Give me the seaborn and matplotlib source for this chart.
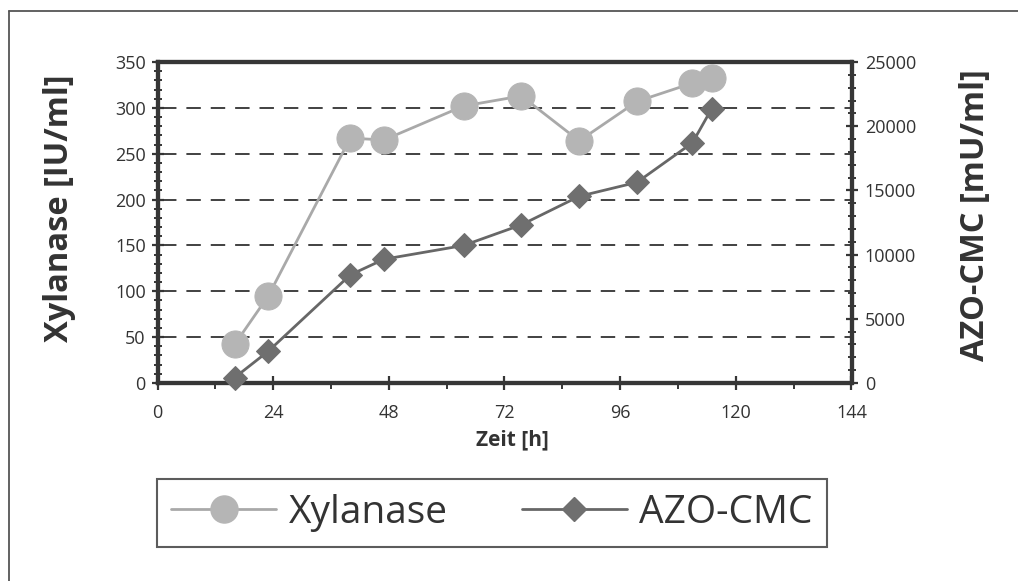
import numpy as np
import pandas as pd
import matplotlib
matplotlib.use("Agg")
import matplotlib.pyplot as plt
import seaborn as sns
from matplotlib.lines import Line2D
from matplotlib.ticker import MultipleLocator

# ---- data ----
zeit_xyl = [16, 23, 40, 47, 63.5, 75.5, 87.5, 99.5, 111, 115]
xylanase = [42, 95, 267, 265, 302, 313, 264, 307, 327, 333]
zeit_azo = [16, 23, 40, 47, 63.5, 75.5, 87.5, 99.5, 111, 115]
azo_cmc = [420, 2480, 8420, 9640, 10710, 12320, 14540, 15630, 18710, 21370]

x_ticks = [0, 24, 48, 72, 96, 120, 144]
left_ticks = [0, 50, 100, 150, 200, 250, 300, 350]
right_ticks = [0, 5000, 10000, 15000, 20000, 25000]

sns.set_theme(style="white")
plt.rcParams['font.family'] = ['Open Sans', 'DejaVu Sans']

W, H = 1018, 581
fig = plt.figure(figsize=(W / 100, H / 100), dpi=100)
L, R, T, B = 157.5, 851.5, 62, 383
ax = fig.add_axes([L / W, 1 - B / H, (R - L) / W, (B - T) / H])
ax2 = ax.twinx()

dark = '#363636'
txt = '#333333'
c_xyl_line = '#a9a9a9'
c_xyl_mark = '#b5b5b5'
c_azo_line = '#676767'
c_azo_mark = '#6f6f6f'

df1 = pd.DataFrame({'Zeit': zeit_xyl, 'Xylanase': xylanase})
df2 = pd.DataFrame({'Zeit': zeit_azo, 'AZO': azo_cmc})

sns.lineplot(data=df1, x='Zeit', y='Xylanase', ax=ax, color=c_xyl_line, lw=2.0,
             marker='o', markersize=19.5, markerfacecolor=c_xyl_mark,
             markeredgecolor=c_xyl_mark, sort=False, legend=False, zorder=5,
             clip_on=False)
sns.lineplot(data=df2, x='Zeit', y='AZO', ax=ax2, color=c_azo_line, lw=2.0,
             marker='D', markersize=12.5, markerfacecolor=c_azo_mark,
             markeredgecolor=c_azo_mark, sort=False, legend=False, zorder=5,
             clip_on=False)

ax.set_xlim(0, 144)
ax.set_ylim(0, 350)
ax2.set_ylim(0, 25000)
ax.set_xticks(x_ticks)
ax.set_yticks(left_ticks)
ax2.set_yticks(right_ticks)
ax.xaxis.set_minor_locator(MultipleLocator(12))
ax.yaxis.set_minor_locator(MultipleLocator(10))
ax2.yaxis.set_minor_locator(MultipleLocator(1000))

# grid lines (dashed) at left major ticks
for v in left_ticks[1:-1]:
    ax.axhline(v, xmin=0.006, color='#333333', lw=1.3, ls=(0, (8, 5.5)), zorder=1)

for a in (ax, ax2):
    for s in a.spines.values():
        s.set_linewidth(3.0)
        s.set_color(dark)
    a.set_facecolor('none')
    a.grid(False)

ax.tick_params(axis='y', which='major', direction='inout', length=9, width=1.6,
               color=dark, labelsize=13, labelcolor=txt, pad=4, left=True)
ax.tick_params(axis='y', which='minor', direction='inout', length=6, width=1.4,
               color=dark, left=True)
ax.tick_params(axis='x', which='major', direction='inout', length=10, width=1.6,
               color=dark, labelsize=13, labelcolor=txt, pad=10, bottom=True)
ax.tick_params(axis='x', which='minor', direction='out', length=4, width=1.4,
               color=dark, bottom=True)
ax2.tick_params(axis='y', which='major', direction='inout', length=9, width=1.6,
                color=dark, labelsize=13, labelcolor=txt, pad=5, right=True)
ax2.tick_params(axis='y', which='minor', direction='inout', length=6, width=1.4,
                color=dark, right=True)

ax.set_xlabel('Zeit [h]', fontsize=15, fontweight='bold', color=txt)
ax.xaxis.set_label_coords((512 - L) / (R - L), (B - 440) / (B - T))
ax.xaxis.label.set_va('center')
ax.set_ylabel('Xylanase [IU/ml]', fontsize=23.5, fontweight='bold', color=txt)
ax.yaxis.set_label_coords((60 - L) / (R - L), (B - 208) / (B - T))
ax.yaxis.label.set_va('center')
ax2.set_ylabel('AZO-CMC [mU/ml]', fontsize=23.5, fontweight='bold', color=txt)
ax2.yaxis.set_label_coords((975 - L) / (R - L), (B - 215) / (B - T))
ax2.yaxis.label.set_va('center')

# legend
handles = [
    Line2D([], [], color=c_xyl_line, lw=2.0, marker='o', markersize=19.5,
           markerfacecolor=c_xyl_mark, markeredgecolor=c_xyl_mark),
    Line2D([], [], color=c_azo_line, lw=2.0, marker='D', markersize=12.5,
           markerfacecolor=c_azo_mark, markeredgecolor=c_azo_mark),
]
leg = fig.legend(handles, ['Xylanase', 'AZO-CMC'], loc='center',
                 bbox_to_anchor=(492 / W, 1 - 513 / H), ncol=2, frameon=True,
                 fancybox=False, prop={'size': 28, 'family': ['Open Sans', 'DejaVu Sans']},
                 handlelength=2.7, columnspacing=1.9, handletextpad=0.32,
                 borderpad=0.38, borderaxespad=0)
leg.get_frame().set_edgecolor('#333333')
leg.get_frame().set_linewidth(1.5)
for t in leg.get_texts():
    t.set_color(txt)

# outer border (left and top)
fig.add_artist(Line2D([9 / W, 9 / W], [0, 1 - 11 / H], color='#555555', lw=1.3,
                      transform=fig.transFigure))
fig.add_artist(Line2D([9 / W, 1], [1 - 11 / H, 1 - 11 / H], color='#555555', lw=1.3,
                      transform=fig.transFigure))

fig.savefig('out.png', dpi=100)
